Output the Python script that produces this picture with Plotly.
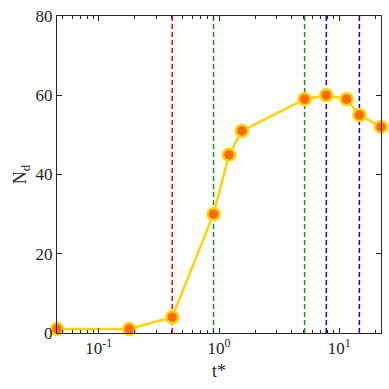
import plotly.graph_objects as go

# data
t_star = [0.045, 0.179, 0.408, 0.90, 1.21, 1.55, 5.15, 7.8, 11.5, 14.7, 22.2]
n_d = [1, 1, 4, 30, 45, 51, 59, 60, 59, 55, 52]

# vertical reference lines
vline_x = [0.408, 0.90, 5.15, 7.8, 14.7]
vline_colors = ['#FF0000', '#228B22', '#228B22', '#0000FF', '#0000FF']

x_tickvals = [0.1, 1, 10]
x_ticktext = ['10<sup>-1</sup>', '10<sup>0</sup>', '10<sup>1</sup>']
y_tickvals = [0, 20, 40, 60, 80]

# log minor ticks 2..9 in each decade
x_minor = [d * 10.0 ** e for e in range(-2, 2) for d in range(2, 10)]

FONT = 'Liberation Serif'
AXIS_COLOR = '#262626'

fig = go.Figure()

for xv, col in zip(vline_x, vline_colors):
    fig.add_trace(go.Scatter(
        x=[xv, xv], y=[0, 80], mode='lines',
        line=dict(color=col, width=1.5, dash='5px,3px'),
        showlegend=False, hoverinfo='skip',
    ))

fig.add_trace(go.Scatter(
    x=t_star, y=n_d, mode='lines+markers',
    line=dict(color='#FFD300', width=2.5),
    marker=dict(size=12, color='#FF6A00', line=dict(color='#FFD300', width=2.5)),
    showlegend=False, cliponaxis=False,
))

axis_common = dict(
    showline=True, linecolor=AXIS_COLOR, linewidth=1, mirror='ticks',
    ticks='inside', ticklen=5, tickcolor=AXIS_COLOR, showgrid=False,
    zeroline=False, ticklabeloverflow='allow',
    tickfont=dict(family=FONT, size=17, color=AXIS_COLOR),
)

fig.update_xaxes(
    type='log', range=[-1.347, 1.347],
    tickvals=x_tickvals, ticktext=x_ticktext,
    minor=dict(tickvals=x_minor, ticks='inside', ticklen=3, tickcolor=AXIS_COLOR, showgrid=False),
    title=dict(text='t*', font=dict(family=FONT, size=18, color=AXIS_COLOR), standoff=6),
    **axis_common,
)
fig.update_yaxes(
    range=[0, 80], tickvals=y_tickvals,
    title=dict(text='N<sub>d</sub>', font=dict(family=FONT, size=18, color=AXIS_COLOR), standoff=4),
    **axis_common,
)

fig.update_layout(
    width=389, height=389,
    margin=dict(l=57, r=7, t=8, b=56),
    plot_bgcolor='white', paper_bgcolor='white',
    font=dict(family=FONT),
)

fig.write_html('out.html', config={'displayModeBar': False},
               post_script="document.body.style.margin='0';")
